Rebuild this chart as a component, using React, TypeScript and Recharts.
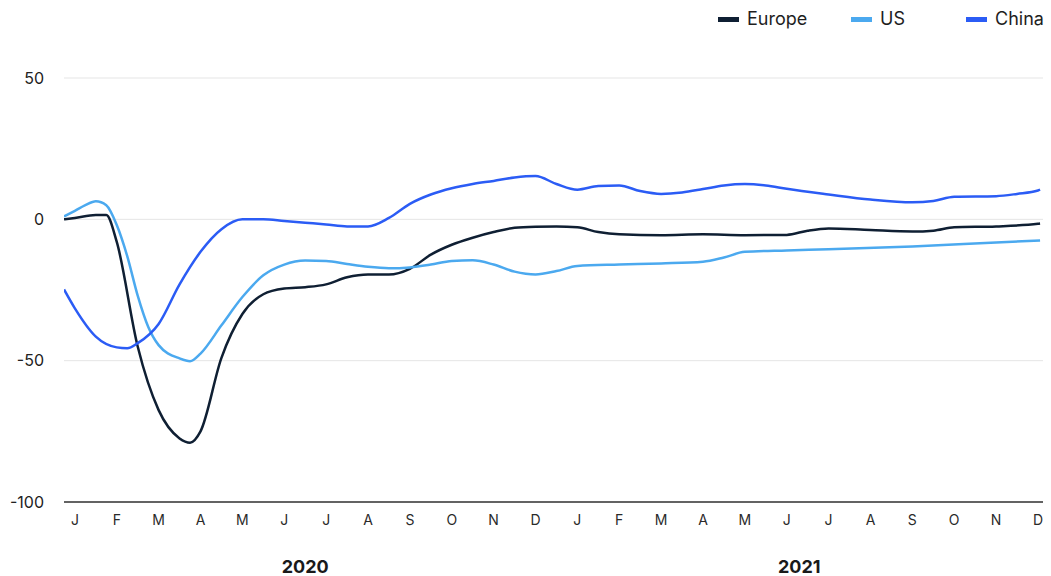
import React from 'react';
import { LineChart, Line, XAxis, YAxis, CartesianGrid } from 'recharts';

// x = month index (0 = Jan 2020, 23 = Dec 2021), y = value
const monthLabels = ['J', 'F', 'M', 'A', 'M', 'J', 'J', 'A', 'S', 'O', 'N', 'D', 'J', 'F', 'M', 'A', 'M', 'J', 'J', 'A', 'S', 'O', 'N', 'D'];
const monthTicks = monthLabels.map((_, i) => i);
const yearLabels = ['2020', '2021'];
const yearTicks = [5.5, 17.3];
const yTicks = [-100, -50, 0, 50];

const europe: [number, number][] = [
  [-0.26, 0], [0, 0.5], [0.5, 1.5], [0.75, 1.5], [1, -8], [1.5, -45], [2, -67.5], [2.5, -77.5], [2.75, -79],
  [3, -75], [3.5, -49], [4, -33.5], [4.5, -26.5], [5, -24.5], [5.5, -24], [6, -23], [6.5, -20.5], [7, -19.5],
  [7.5, -19.5], [8, -17.5], [8.5, -12.5], [9, -9], [9.5, -6.5], [10, -4.5], [10.5, -3], [11, -2.6], [11.5, -2.5],
  [12, -2.8], [12.5, -4.5], [13, -5.3], [14, -5.6], [15, -5.3], [16, -5.6], [17, -5.5], [17.5, -4], [18, -3.2],
  [19, -3.8], [20, -4.3], [20.5, -4], [21, -2.8], [22, -2.5], [23, -1.6], [23.05, -1.5],
];

const us: [number, number][] = [
  [-0.26, 1], [0, 3], [0.25, 5], [0.5, 6.4], [0.75, 5], [1, -2], [1.25, -13], [1.5, -27], [1.75, -38], [2, -44.5],
  [2.5, -49.2], [2.75, -50.2], [3, -47.5], [3.5, -37.5], [4, -27.5], [4.5, -19.8], [5, -16], [5.5, -14.6], [6, -14.7],
  [6.5, -15.8], [7, -16.8], [7.5, -17.3], [8, -17], [8.5, -16], [9, -14.7], [9.5, -14.5], [10, -16], [10.5, -18.5],
  [11, -19.5], [11.5, -18.3], [12, -16.5], [13, -16], [14, -15.6], [15, -15], [15.5, -13.5], [16, -11.5], [17, -11],
  [18, -10.6], [20, -9.6], [22, -8.2], [23.05, -7.5],
];

const china: [number, number][] = [
  [-0.26, -24.8], [0, -31.5], [0.5, -41.5], [1, -45.3], [1.25, -45.6], [1.5, -43.8], [2, -37], [2.5, -23], [3, -11.5],
  [3.5, -3.5], [4, 0], [4.5, 0], [5, -0.6], [5.5, -1.2], [6, -1.8], [6.5, -2.5], [7, -2.5], [7.5, 0.5], [8, 5.5],
  [8.5, 8.8], [9, 11], [9.5, 12.5], [10, 13.6], [10.5, 14.8], [11, 15.3], [11.5, 12.5], [12, 10.5], [12.5, 11.8],
  [13, 12], [13.5, 10], [14, 9], [14.5, 9.5], [15, 10.7], [15.5, 12], [16, 12.5], [16.5, 12], [17, 10.8], [18, 8.8],
  [19, 7], [20, 6], [20.5, 6.5], [21, 8], [22, 8.2], [22.5, 9], [23, 10.2], [23.05, 10.5],
];

const toRows = (pts: [number, number][]) => pts.map(([m, v]) => ({ m, v }));

const series = [
  { name: 'Europe', color: '#0f1f33', data: toRows(europe) },
  { name: 'US', color: '#4ba9ef', data: toRows(us) },
  { name: 'China', color: '#2b5cf5', data: toRows(china) },
];

const legendLeft = [718, 851, 966];
const font = 'Inter, "Noto Sans", sans-serif';

export default function App() {
  return (
    <div style={{ position: 'absolute', left: 0, top: 0, width: 1051, height: 576, background: '#fff', fontFamily: font }}>
      {series.map((s, i) => (
        <div
          key={s.name}
          style={{ position: 'absolute', top: 8, left: legendLeft[i], display: 'flex', alignItems: 'center', fontSize: 18, color: '#1e1e1e', lineHeight: '22px', whiteSpace: 'nowrap' }}
        >
          <span style={{ display: 'inline-block', width: 21, height: 5, background: s.color, marginRight: 8 }} />
          <span>{s.name}</span>
        </div>
      ))}
      <LineChart width={1051} height={576} margin={{ top: 78, right: 8, bottom: 0, left: 0 }}>
        <CartesianGrid horizontal vertical={false} stroke="#e5e5e5" strokeWidth={1} />
        <XAxis
          dataKey="m"
          type="number"
          domain={[-0.26, 23.12]}
          allowDataOverflow
          ticks={monthTicks}
          interval={0}
          tickFormatter={(v: number) => monthLabels[v]}
          height={30}
          tickSize={0}
          tickLine={false}
          tickMargin={13}
          axisLine={{ stroke: '#333', strokeWidth: 1.5 }}
          tick={{ fill: '#2a2a2a', fontSize: 14, fontFamily: font }}
        />
        <XAxis
          xAxisId="year"
          dataKey="m"
          type="number"
          domain={[-0.26, 23.12]}
          allowDataOverflow
          ticks={yearTicks}
          interval={0}
          tickFormatter={(v: number, i: number) => yearLabels[i]}
          height={44}
          tickSize={0}
          tickLine={false}
          axisLine={false}
          tickMargin={28}
          tick={{ fill: '#1a1a1a', fontSize: 18, fontWeight: 700, fontFamily: font }}
        />
        <YAxis
          type="number"
          domain={[-100, 50]}
          ticks={yTicks}
          interval={0}
          width={64}
          tickSize={0}
          tickLine={false}
          axisLine={false}
          tickMargin={20}
          tick={{ fill: '#222', fontSize: 16, fontFamily: font }}
        />
        {series.map((s) => (
          <Line
            key={s.name}
            data={s.data}
            dataKey="v"
            name={s.name}
            type="monotone"
            stroke={s.color}
            strokeWidth={2.5}
            dot={false}
            activeDot={false}
            isAnimationActive={false}
          />
        ))}
      </LineChart>
    </div>
  );
}
